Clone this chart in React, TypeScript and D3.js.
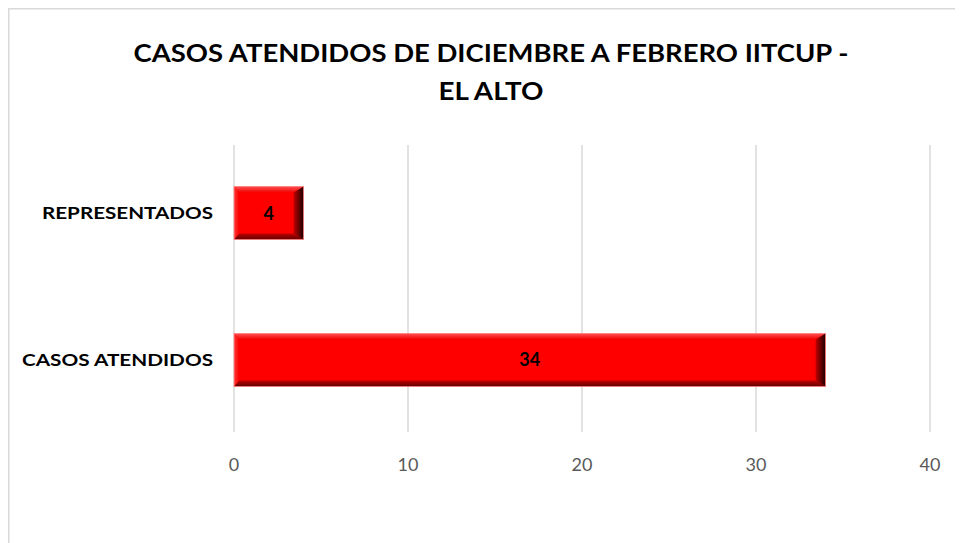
import React from "react";
import * as d3 from "d3";

const categories = ["REPRESENTADOS", "CASOS ATENDIDOS"];
const values = [4, 34];
const ticks = [0, 10, 20, 30, 40];
const titleLines = ["CASOS ATENDIDOS DE DICIEMBRE A FEBRERO IITCUP -", "EL ALTO"];

const W = 955;
const H = 535;
// offsets are relative to svg (which sits at page 8,8)
const plot = { left: 226, right: 922, top: 137, bottom: 424 };

const App: React.FC = () => {
  const x = d3.scaleLinear().domain([0, 40]).range([plot.left, plot.right]);
  const y = d3
    .scaleBand<string>()
    .domain(categories)
    .range([plot.top - 4, plot.bottom])
    .paddingInner(0.64)
    .paddingOuter(0.31);

  const bevel = (x0: number, y0: number, w: number, h: number, i: number) => {
    const t = 6; // top/bottom bevel
    const s = 10; // side bevel
    const x1 = x0 + w;
    const y1 = y0 + h;
    return (
      <g key={i}>
        <rect x={x0} y={y0} width={w} height={h} fill="#ff0000" />
        <polygon
          points={`${x0},${y0} ${x1},${y0} ${x1 - s},${y0 + t} ${x0 + 5},${y0 + t}`}
          fill="url(#gTop)"
        />
        <polygon
          points={`${x0},${y1} ${x1},${y1} ${x1 - s},${y1 - t} ${x0 + 5},${y1 - t}`}
          fill="url(#gBot)"
        />
        <polygon
          points={`${x1},${y0} ${x1},${y1} ${x1 - s},${y1 - t} ${x1 - s},${y0 + t}`}
          fill="url(#gRight)"
        />
        <polygon
          points={`${x0},${y0} ${x0},${y1} ${x0 + 5},${y1 - t} ${x0 + 5},${y0 + t}`}
          fill="url(#gLeft)"
        />
        <rect
          x={x0}
          y={y0}
          width={w}
          height={h}
          fill="none"
          stroke="#ff8a8a"
          strokeWidth={0.8}
        />
      </g>
    );
  };

  return (
    <svg width={W} height={H} style={{ display: "block", fontFamily: "Lato, 'Open Sans', sans-serif" }}>
      <defs>
        <linearGradient id="gTop" x1="0" y1="0" x2="0" y2="1">
          <stop offset="0" stopColor="#ff5050" />
          <stop offset="1" stopColor="#f00000" />
        </linearGradient>
        <linearGradient id="gBot" x1="0" y1="1" x2="0" y2="0">
          <stop offset="0" stopColor="#600000" />
          <stop offset="1" stopColor="#c00000" />
        </linearGradient>
        <linearGradient id="gRight" x1="1" y1="0" x2="0" y2="0">
          <stop offset="0" stopColor="#1a0000" />
          <stop offset="1" stopColor="#c00000" />
        </linearGradient>
        <linearGradient id="gLeft" x1="0" y1="0" x2="1" y2="0">
          <stop offset="0" stopColor="#ff3a3a" />
          <stop offset="1" stopColor="#ff0000" />
        </linearGradient>
      </defs>
      <rect x={0.75} y={0.75} width={W + 20} height={H + 20} fill="#fff" stroke="#d9d9d9" strokeWidth={1.5} />

      {titleLines.map((t, i) => (
        <text
          key={i}
          x={483}
          y={54 + i * 38}
          textAnchor="middle"
          fontWeight="bold"
          fontSize={24}
          fill="#000"
          textLength={i === 0 ? 715 : 105}
          lengthAdjust="spacingAndGlyphs"
        >
          {t}
        </text>
      ))}

      {ticks.map((t) => (
        <g key={t}>
          <line x1={x(t)} x2={x(t)} y1={plot.top} y2={plot.bottom} stroke="#d9d9d9" strokeWidth={1.5} />
          <text x={x(t)} y={plot.bottom + 39} textAnchor="middle" fontSize={18} fill="#595959">
            {t}
          </text>
        </g>
      ))}

      {categories.map((c, i) => {
        const by = y(c)!;
        const bh = y.bandwidth();
        return (
          <g key={c}>
            {bevel(x(0), by, x(values[i]) - x(0), bh, i)}
            <text
              x={x(values[i] / 2)}
              y={by + bh / 2 + 6.5}
              textAnchor="middle"
              fontWeight="bold"
              fontSize={18}
              fill="#000"
            >
              {values[i]}
            </text>
            <text
              x={205}
              y={by + bh / 2 + 6}
              textAnchor="end"
              fontWeight="bold"
              fontSize={17}
              fill="#000"
              textLength={i === 0 ? 171 : 191}
              lengthAdjust="spacingAndGlyphs"
            >
              {c}
            </text>
          </g>
        );
      })}
    </svg>
  );
};

export default App;
